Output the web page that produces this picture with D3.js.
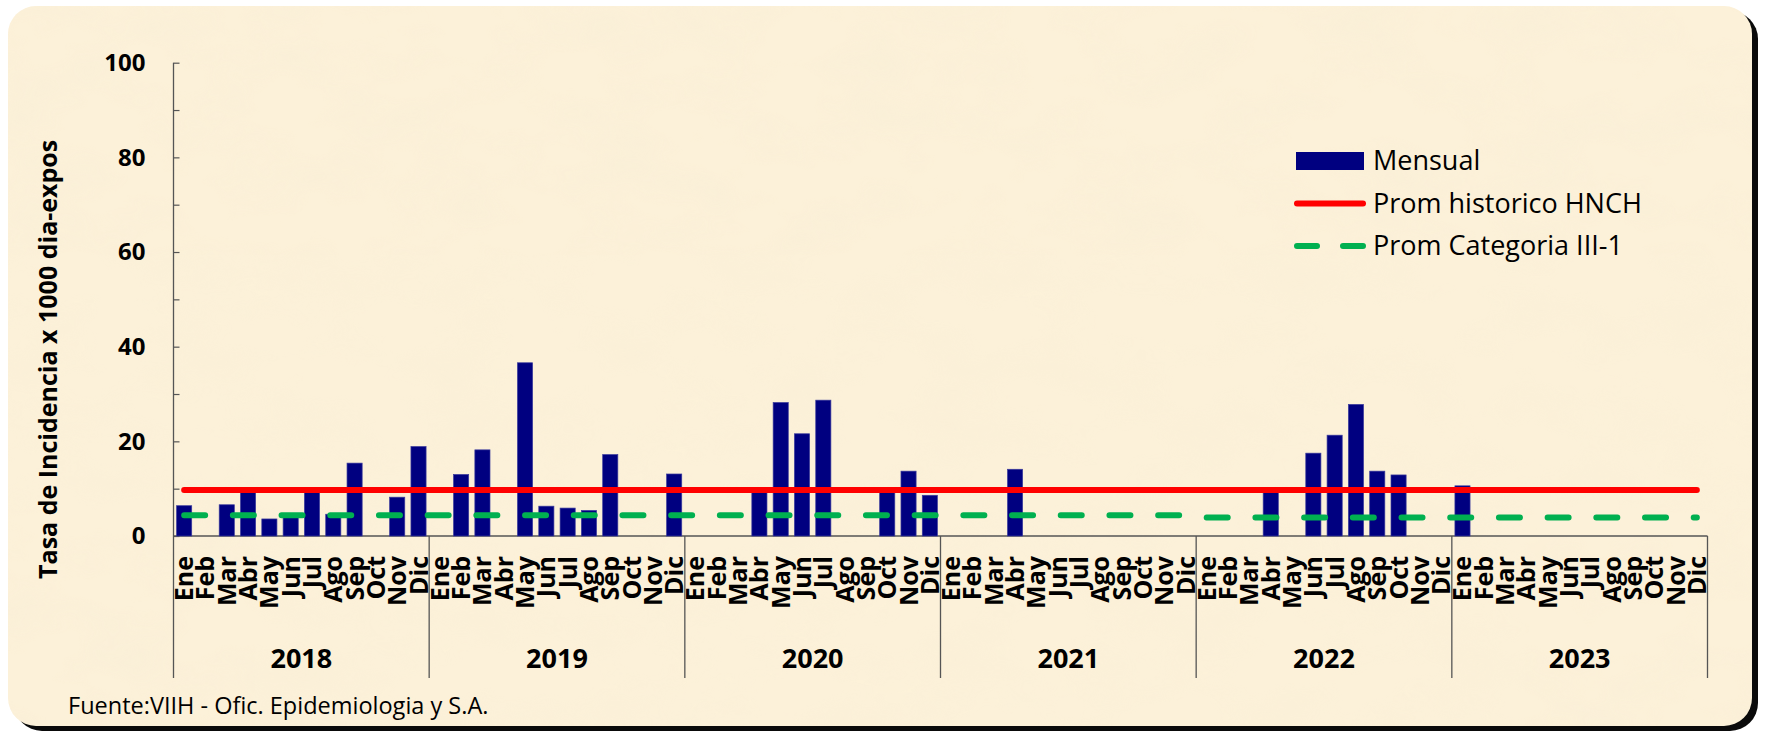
<!DOCTYPE html>
<html><head><meta charset="utf-8">
<script src="https://cdn.jsdelivr.net/npm/d3@7"></script>
<style>html,body{margin:0;padding:0;background:#fff;} svg{display:block;}</style>
</head><body>
<svg id="chart" width="1766" height="732"></svg>
<script>
// ---------------- DATA ----------------
const years = ["2018", "2019", "2020", "2021", "2022", "2023"];
const months = ["Ene", "Feb", "Mar", "Abr", "May", "Jun", "Jul", "Ago", "Sep", "Oct", "Nov", "Dic"];
const mensual2018 = [6.4, null, 6.6, 9.4, 3.6, 4.1, 9.4, 4.6, 15.4, null, 8.2, 18.9];
const mensual2019 = [null, 13.0, 18.2, null, 36.6, 6.3, 5.9, 5.4, 17.2, null, null, 13.1];
const mensual2020 = [null, null, null, 9.4, 28.2, 21.6, 28.7, null, null, 9.4, 13.7, 8.6];
const mensual2021 = [null, null, null, 14.1, null, null, null, null, null, null, null, null];
const mensual2022 = [null, null, null, 9.4, null, 17.5, 21.3, 27.8, 13.7, 12.9, null, null];
const mensual2023 = [10.6, null, null, null, null, null, null, null, null, null, null, null];
// yearly reference values (one per year, plotted for every month of that year)
const promHistoricoHNCH = [9.7, 9.7, 9.7, 9.7, 9.7, 9.7];
const promCategoriaIII1 = [4.4, 4.4, 4.4, 4.4, 3.9, 3.9];
const yTicks = [0, 20, 40, 60, 80, 100];
const yMinorTicks = [0, 10, 20, 30, 40, 50, 60, 70, 80, 90, 100];
const seriesNames = ["Mensual", "Prom historico HNCH", "Prom Categoria III-1"];
const yTitle = "Tasa de Incidencia x 1000 dia-expos";
const sourceText = "Fuente:VIIH - Ofic. Epidemiologia y S.A.";

// ---------------- BUILD ----------------
const mensualByYear = [mensual2018, mensual2019, mensual2020, mensual2021, mensual2022, mensual2023];
const rows = [];
years.forEach((yr, yi) => months.forEach((m, mi) => rows.push({
  key: yr + "-" + m, year: yr, month: m,
  v: mensualByYear[yi][mi], hnch: promHistoricoHNCH[yi], cat: promCategoriaIII1[yi]
})));

const svg = d3.select("#chart");
const plot = {left: 173.5, right: 1707.5, top: 62.7, bottom: 536};
const font = "'Open Sans', 'Liberation Sans', sans-serif";

const x = d3.scaleBand().domain(rows.map(d => d.key))
  .range([plot.left, plot.right]).paddingInner(0.29).paddingOuter(0.145);
const xYear = d3.scaleBand().domain(years).range([plot.left, plot.right]);
const y = d3.scaleLinear().domain([0, 100]).range([plot.bottom, plot.top]);
const cx = d => x(d.key) + x.bandwidth() / 2;

// ---------------- FRAME ----------------
const defs = svg.append("defs");
const f = defs.append("filter").attr("id", "paper").attr("x", 0).attr("y", 0).attr("width", 1).attr("height", 1);
f.append("feTurbulence").attr("type", "fractalNoise").attr("baseFrequency", "0.012 0.02").attr("numOctaves", 3).attr("seed", 7);
f.append("feColorMatrix").attr("type", "matrix")
  .attr("values", "0 0 0 0 0.93  0 0 0 0 0.84  0 0 0 0 0.66  1.2 0 0 0 -0.5");
defs.append("clipPath").attr("id", "paperClip")
  .append("rect").attr("x", 8).attr("y", 6).attr("width", 1744).attr("height", 720).attr("rx", 28);

svg.append("rect").attr("x", 14).attr("y", 11).attr("width", 1744).attr("height", 720).attr("rx", 28).attr("fill", "#0a0a0a");
svg.append("rect").attr("x", 8).attr("y", 6).attr("width", 1744).attr("height", 720).attr("rx", 28).attr("fill", "#FCF1D9");
svg.append("g").attr("clip-path", "url(#paperClip)")
  .append("rect").attr("x", 8).attr("y", 6).attr("width", 1744).attr("height", 720)
  .attr("filter", "url(#paper)").attr("opacity", 0.45);

// ---------------- AXES ----------------
const axisColor = "#555";
const yAxisG = svg.append("g").attr("transform", `translate(${plot.left},0)`)
  .call(d3.axisRight(y).tickValues(yMinorTicks).tickSize(6).tickFormat(""));
yAxisG.select(".domain").attr("stroke", axisColor).attr("stroke-width", 1.3).attr("d", `M0,${plot.top}V${plot.bottom}`);
yAxisG.selectAll(".tick line").attr("stroke", axisColor).attr("stroke-width", 1.2);

const yLab = svg.append("g").attr("transform", `translate(${plot.left},0)`)
  .call(d3.axisLeft(y).tickValues(yTicks).tickSize(0).tickPadding(28));
yLab.select(".domain").remove();
yLab.selectAll("text").attr("font-family", font).attr("font-weight", 700).attr("font-size", 24).attr("fill", "#000");

svg.append("text").attr("transform", `translate(57,${(plot.top + plot.bottom) / 2 + 60}) rotate(-90)`)
  .attr("text-anchor", "middle").attr("font-family", font).attr("font-weight", 700)
  .attr("font-size", 25).attr("fill", "#000").text(yTitle);

svg.append("line").attr("x1", plot.left).attr("x2", plot.right).attr("y1", plot.bottom).attr("y2", plot.bottom)
  .attr("stroke", axisColor).attr("stroke-width", 1.3);
const sepX = years.map(yr => xYear(yr)).concat([plot.right]);
svg.append("g").selectAll("line").data(sepX).join("line")
  .attr("x1", d => d).attr("x2", d => d).attr("y1", plot.bottom).attr("y2", 678)
  .attr("stroke", axisColor).attr("stroke-width", 1.3);

svg.append("g").selectAll("text").data(rows).join("text")
  .attr("transform", d => `translate(${cx(d)},556) rotate(-90)`)
  .attr("dy", "0.36em").attr("text-anchor", "end")
  .attr("font-family", font).attr("font-weight", 700).attr("font-size", 25).attr("fill", "#000")
  .text(d => d.month);

svg.append("g").selectAll("text").data(years).join("text")
  .attr("x", d => xYear(d) + xYear.bandwidth() / 2).attr("y", 668)
  .attr("text-anchor", "middle").attr("font-family", font).attr("font-weight", 700)
  .attr("font-size", 27).attr("fill", "#000").text(d => d);

// ---------------- MARKS ----------------
svg.append("g").selectAll("rect").data(rows.filter(d => d.v != null)).join("rect")
  .attr("x", d => x(d.key)).attr("width", x.bandwidth())
  .attr("y", d => y(d.v)).attr("height", d => y(0) - y(d.v))
  .attr("fill", "#000080").attr("stroke", "#3a3a9c").attr("stroke-width", 0.7);

const lineH = d3.line().x(cx).y(d => y(d.hnch));
const lineC = d3.line().x(cx).y(d => y(d.cat));
svg.append("path").datum(rows).attr("d", lineH).attr("fill", "none")
  .attr("stroke", "#FF0000").attr("stroke-width", 6).attr("stroke-linecap", "round").attr("stroke-linejoin", "round");
svg.append("path").datum(rows).attr("d", lineC).attr("fill", "none")
  .attr("stroke", "#00B050").attr("stroke-width", 6).attr("stroke-linecap", "round")
  .attr("stroke-dasharray", "21 27.7");

// ---------------- LEGEND ----------------
const lg = svg.append("g");
lg.append("rect").attr("x", 1296).attr("y", 152).attr("width", 68).attr("height", 18).attr("fill", "#000080");
lg.append("line").attr("x1", 1297).attr("x2", 1363).attr("y1", 203.5).attr("y2", 203.5)
  .attr("stroke", "#FF0000").attr("stroke-width", 6).attr("stroke-linecap", "round");
lg.append("line").attr("x1", 1297).attr("x2", 1364).attr("y1", 246).attr("y2", 246)
  .attr("stroke", "#00B050").attr("stroke-width", 6).attr("stroke-linecap", "round")
  .attr("stroke-dasharray", "20 26");
lg.selectAll("text").data(seriesNames).join("text")
  .attr("x", 1373).attr("y", (d, i) => 170 + i * 42.5)
  .attr("font-family", font).attr("font-size", 27).attr("fill", "#000").text(d => d);

// ---------------- SOURCE ----------------
svg.append("text").attr("x", 68).attr("y", 714).attr("font-family", font).attr("font-size", 23.5)
  .attr("fill", "#000").text(sourceText);
</script>
</body></html>
